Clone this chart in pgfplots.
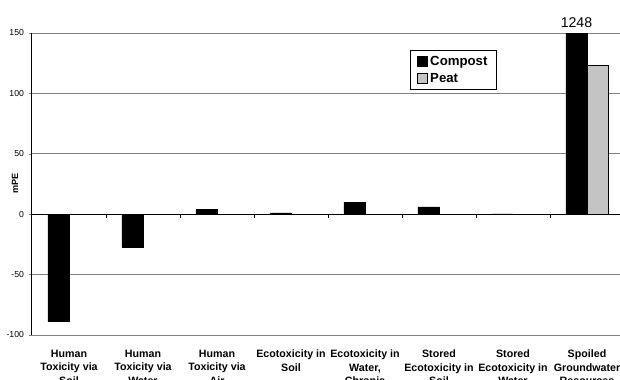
\documentclass[border=0pt]{standalone}
\usepackage{pgfplots}
\pgfplotsset{compat=1.18}
\usepackage{fontspec}
\setmainfont{Liberation Sans}
\definecolor{peatgray}{RGB}{196,196,196}
\definecolor{gridgray}{RGB}{128,128,128}
\begin{document}
\begin{tikzpicture}
\begin{axis}[
  at={(0,0)}, anchor=south west,
  scale only axis, width=444pt, height=226.5pt,
  xmin=-0.5, xmax=7.5, ymin=-100, ymax=150,
  clip mode=individual,
  ybar=0pt, bar width=0.284,
  ytick={-100,-50,0,50,100,150},
  ymajorgrids, grid style={gridgray, line width=0.75pt},
  axis x line*=bottom, x axis line style={draw=none},
  axis y line*=left, y axis line style={black, line width=0.75pt},
  tick align=outside, major tick length=2.5pt,
  xtick={0,...,7}, xtick style={draw=none},
  xticklabels={{Human\\Toxicity via\\Soil},{Human\\Toxicity via\\Water},{Human\\Toxicity via\\Air},{Ecotoxicity in\\Soil},{Ecotoxicity in\\Water,\\Chronic},{Stored\\Ecotoxicity in\\Soil},{Stored\\Ecotoxicity in\\Water},{Spoiled\\Groundwater\\Resources}},
  xticklabel style={align=center, font=\fontsize{8}{10.2}\selectfont\bfseries, yshift=-5pt},
  yticklabel style={font=\fontsize{6.5}{7}\selectfont},
  /pgf/number format/assume math mode=true,
  ylabel={mPE}, ylabel style={font=\fontsize{6.8}{7}\selectfont\bfseries, at={(axis description cs:0,0.503)}, anchor=center, yshift=12.75pt},
  legend style={at={(0.6385,0.9437)}, anchor=north west, draw=black, line width=0.75pt,
    font=\fontsize{9.9}{12}\selectfont\bfseries, inner xsep=5pt, inner ysep=2pt, row sep=0.5pt,
    cells={anchor=west}},
  legend image code/.code={\draw[#1, line width=0.4pt] (0pt,-3.4pt) rectangle (7.4pt,4pt);},
]
\addplot[fill=black, draw=black, line width=0.4pt] coordinates {(0,-89) (1,-27) (2,4) (3,1) (4,10) (5,6) (6,0.3) (7,1248)};
\addlegendentry{Compost}
\addplot[fill=peatgray, draw=black, line width=0.4pt] coordinates {(0,0) (1,0) (2,0) (3,0) (4,0) (5,0) (6,0) (7,123)};
\addlegendentry{Peat}
\draw[black, line width=0.75pt] (axis cs:-0.5,0) -- (axis cs:7.5,0);
\pgfplotsinvokeforeach{0.5,1.5,2.5,3.5,4.5,5.5,6.5}{
  \draw[black, line width=0.5pt] (axis cs:#1,0) -- ++(0pt,-2.5pt);
}
\node[above, font=\fontsize{10.6}{12}\selectfont, inner sep=0pt, yshift=4pt] at (axis cs:6.858,150) {1248};
\end{axis}
\pgfresetboundingbox
\path[use as bounding box] (-24pt,-33pt) rectangle (441pt,251.25pt);
\end{tikzpicture}
\end{document}
